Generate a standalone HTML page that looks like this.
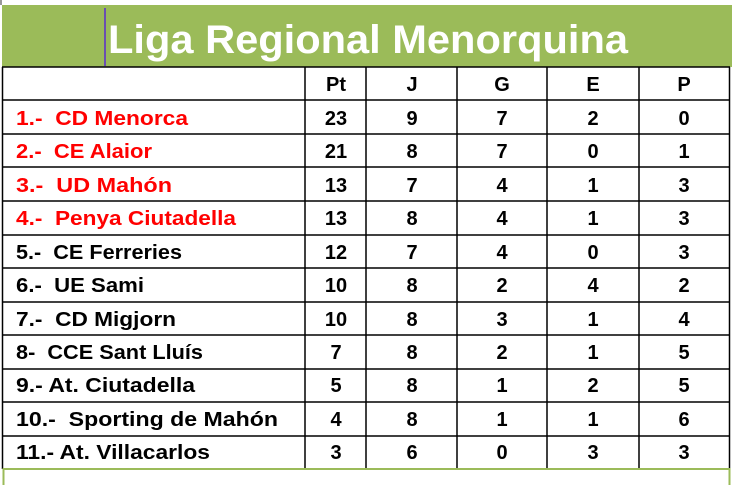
<!DOCTYPE html>
<html><head><meta charset="utf-8"><style>
html,body{margin:0;padding:0;background:#fff;width:738px;height:485px;overflow:hidden}
svg{display:block}
text{font-family:"Liberation Sans",Arial,sans-serif;font-weight:bold;font-size:20px;white-space:pre}
</style></head><body>
<svg width="738" height="485" viewBox="0 0 738 485" xmlns="http://www.w3.org/2000/svg" xml:space="preserve">
<rect x="0" y="0" width="2" height="5" fill="#999"/>
<rect x="2" y="5" width="730" height="62" fill="#9bbb59"/>
<rect x="104" y="8" width="2" height="58" fill="#6a4fb0"/>
<text x="108" y="53" fill="#fff" style="font-size:40px" textLength="520" lengthAdjust="spacingAndGlyphs">Liga Regional Menorquina</text>
<g stroke="#000" stroke-width="1.5" fill="none">
<line x1="2.5" y1="67" x2="2.5" y2="469"/>
<line x1="729.5" y1="67" x2="729.5" y2="469"/>
<line x1="305" y1="67" x2="305" y2="469"/>
<line x1="366" y1="67" x2="366" y2="469"/>
<line x1="457" y1="67" x2="457" y2="469"/>
<line x1="547" y1="67" x2="547" y2="469"/>
<line x1="639" y1="67" x2="639" y2="469"/>
<line x1="2" y1="67" x2="730" y2="67"/>
<line x1="2" y1="100" x2="730" y2="100"/>
<line x1="2" y1="134" x2="730" y2="134"/>
<line x1="2" y1="167" x2="730" y2="167"/>
<line x1="2" y1="201" x2="730" y2="201"/>
<line x1="2" y1="235" x2="730" y2="235"/>
<line x1="2" y1="268" x2="730" y2="268"/>
<line x1="2" y1="302" x2="730" y2="302"/>
<line x1="2" y1="335" x2="730" y2="335"/>
<line x1="2" y1="369" x2="730" y2="369"/>
<line x1="2" y1="402" x2="730" y2="402"/>
<line x1="2" y1="436" x2="730" y2="436"/>
</g>
<rect x="3.5" y="469" width="726" height="30" fill="none" stroke="#9bbb59" stroke-width="2"/>
<g text-anchor="middle" fill="#000">
<text x="336" y="91">Pt</text><text x="412" y="91">J</text><text x="502" y="91">G</text><text x="593" y="91">E</text><text x="684" y="91">P</text>
</g>
<g fill="#000">
<text x="16" y="125" fill="#f00" textLength="172" lengthAdjust="spacingAndGlyphs">1.-  CD Menorca</text>
<text x="16" y="158" fill="#f00" textLength="136" lengthAdjust="spacingAndGlyphs">2.-  CE Alaior</text>
<text x="16" y="192" fill="#f00" textLength="156" lengthAdjust="spacingAndGlyphs">3.-  UD Mahón</text>
<text x="16" y="225" fill="#f00" textLength="220" lengthAdjust="spacingAndGlyphs">4.-  Penya Ciutadella</text>
<text x="16" y="259" textLength="166" lengthAdjust="spacingAndGlyphs">5.-  CE Ferreries</text>
<text x="16" y="292" textLength="128" lengthAdjust="spacingAndGlyphs">6.-  UE Sami</text>
<text x="16" y="326" textLength="160" lengthAdjust="spacingAndGlyphs">7.-  CD Migjorn</text>
<text x="16" y="359" textLength="187" lengthAdjust="spacingAndGlyphs">8-  CCE Sant Lluís</text>
<text x="16" y="392" textLength="179" lengthAdjust="spacingAndGlyphs">9.- At. Ciutadella</text>
<text x="16" y="426" textLength="262" lengthAdjust="spacingAndGlyphs">10.-  Sporting de Mahón</text>
<text x="16" y="459" textLength="194" lengthAdjust="spacingAndGlyphs">11.- At. Villacarlos</text>
</g>
<g text-anchor="middle" fill="#000">
<text x="336" y="125">23</text><text x="412" y="125">9</text><text x="502" y="125">7</text><text x="593" y="125">2</text><text x="684" y="125">0</text>
<text x="336" y="158">21</text><text x="412" y="158">8</text><text x="502" y="158">7</text><text x="593" y="158">0</text><text x="684" y="158">1</text>
<text x="336" y="192">13</text><text x="412" y="192">7</text><text x="502" y="192">4</text><text x="593" y="192">1</text><text x="684" y="192">3</text>
<text x="336" y="225">13</text><text x="412" y="225">8</text><text x="502" y="225">4</text><text x="593" y="225">1</text><text x="684" y="225">3</text>
<text x="336" y="259">12</text><text x="412" y="259">7</text><text x="502" y="259">4</text><text x="593" y="259">0</text><text x="684" y="259">3</text>
<text x="336" y="292">10</text><text x="412" y="292">8</text><text x="502" y="292">2</text><text x="593" y="292">4</text><text x="684" y="292">2</text>
<text x="336" y="326">10</text><text x="412" y="326">8</text><text x="502" y="326">3</text><text x="593" y="326">1</text><text x="684" y="326">4</text>
<text x="336" y="359">7</text><text x="412" y="359">8</text><text x="502" y="359">2</text><text x="593" y="359">1</text><text x="684" y="359">5</text>
<text x="336" y="392">5</text><text x="412" y="392">8</text><text x="502" y="392">1</text><text x="593" y="392">2</text><text x="684" y="392">5</text>
<text x="336" y="426">4</text><text x="412" y="426">8</text><text x="502" y="426">1</text><text x="593" y="426">1</text><text x="684" y="426">6</text>
<text x="336" y="459">3</text><text x="412" y="459">6</text><text x="502" y="459">0</text><text x="593" y="459">3</text><text x="684" y="459">3</text>
</g>
</svg>
</body></html>
